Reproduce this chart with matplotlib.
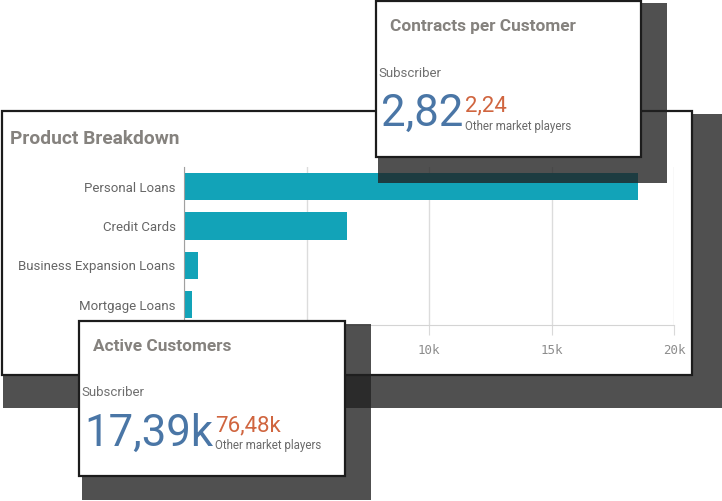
import matplotlib
matplotlib.use('Agg')
import matplotlib.pyplot as plt
from matplotlib.patches import Rectangle

plt.rcParams['font.family'] = ['Roboto', 'DejaVu Sans']

# bar chart data
categories = ['Personal Loans', 'Credit Cards', 'Business Expansion Loans', 'Mortgage Loans']
values = [18530, 6640, 570, 310]
x_ticks = [0, 5000, 10000, 15000, 20000]
# 0 and 5k sit behind the "Active Customers" card, so they are left blank
x_tick_labels = ['', '', '10k', '15k', '20k']

# KPI cards
kpi_titles = ['Contracts per Customer', 'Active Customers']
kpi_main = ['2,82', '17,39k']
kpi_other = ['2,24', '76,48k']
main_label = 'Subscriber'
other_label = 'Other market players'

W, H = 722, 501
SHADOW = '#212121'
BORDER = '#1c1c1c'
TEAL = '#12a3b8'
BLUE = '#4a76a6'
ORANGE = '#d0653f'
TITLE_GRAY = '#85827e'


def shadow(ax, x, y, w, h):
    ax.add_patch(Rectangle((x, y), w, h, facecolor=SHADOW, alpha=0.79, lw=0))


def panel(ax, x, y, w, h):
    ax.add_patch(Rectangle((x, y), w, h, facecolor='white', edgecolor=BORDER, lw=1.6))


fig = plt.figure(figsize=(W / 100, H / 100), dpi=100)

# background layer: big panel and its shadow
bg = fig.add_axes([0, 0, 1, 1], zorder=0)
bg.set_xlim(0, W)
bg.set_ylim(H, 0)
bg.axis('off')
shadow(bg, 3, 114, 719, 294)
panel(bg, 2, 111, 690, 264)
bg.text(10, 139, 'Product Breakdown', fontsize=13.8, fontweight='bold',
        color=TITLE_GRAY, ha='left', va='center')

# bar chart
ax = fig.add_axes([184 / W, 1 - 324.5 / H, 490 / W, 157.5 / H], zorder=1)
ax.patch.set_alpha(0)
ax.barh(range(len(categories)), values, height=0.69, color=TEAL)
ax.set_ylim(len(categories) - 0.5, -0.5)
ax.set_xlim(0, 20000)
ax.set_yticks(range(len(categories)), categories)
ax.set_xticks(x_ticks, x_tick_labels, family='DejaVu Sans Mono')
ax.grid(axis='x', color='#dcdcdc', lw=1)
ax.set_axisbelow(True)
for s in ['top', 'right']:
    ax.spines[s].set_visible(False)
ax.spines['left'].set_color('#a0a0a0')
ax.spines['bottom'].set_color('#d4d4d4')
ax.tick_params(axis='x', length=7.2, color='#d9d9d9', labelcolor='#8c8c8c',
               labelsize=9, pad=7)
ax.tick_params(axis='y', length=0, pad=6, labelsize=9.5, labelcolor='#666666')

# overlay layer: KPI cards
ov = fig.add_axes([0, 0, 1, 1], zorder=2)
ov.patch.set_alpha(0)
ov.set_xlim(0, W)
ov.set_ylim(H, 0)
ov.axis('off')

cards = [(376, 1, 265, 156, 378, 3, 289, 180),
         (79, 321, 266, 155, 82, 324, 289, 176)]

renderer = fig.canvas.get_renderer()
for i, (x, y, w, h, sx, sy, sw, sh) in enumerate(cards):
    shadow(ov, sx, sy, sw, sh)
    panel(ov, x, y, w, h)
    ov.text(x + 14, y + 25.5, kpi_titles[i], fontsize=12.4, fontweight='bold',
            color=TITLE_GRAY, ha='left', va='center')
    ov.text(x + 2, y + 72, main_label, fontsize=9.5, color='#707070',
            ha='left', va='center')
    t = ov.text(x + 5, y + 125, kpi_main[i], fontsize=31.5, color=BLUE,
                ha='left', va='baseline')
    x_end = t.get_window_extent(renderer).x1
    ov.text(x_end + 2, y + 110.5, kpi_other[i], fontsize=16, color=ORANGE,
            ha='left', va='baseline')
    ov.text(x_end + 2, y + 125, other_label, fontsize=8.3, color='#6a6a6a',
            ha='left', va='center')

fig.savefig('out.png', dpi=100)
